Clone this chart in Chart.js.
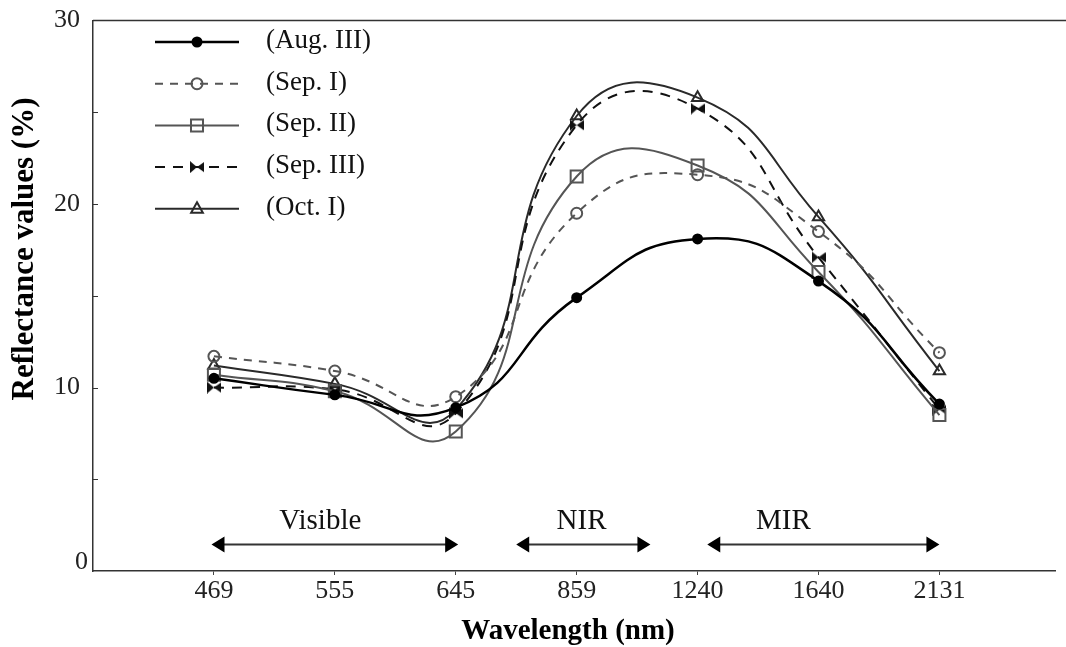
<!DOCTYPE html>
<html>
<head>
<meta charset="utf-8">
<script src="https://cdn.jsdelivr.net/npm/chart.js@4.4.1/dist/chart.umd.min.js"></script>
<style>
  html, body { margin: 0; padding: 0; background: #fff; }
  #wrap { width: 1066px; height: 647px; }
</style>
</head>
<body>
<div id="wrap"><canvas id="refl"></canvas></div>
<script>
// wavelengths (nm) and reflectance (%) per sampling date
const wavelengths = ["469", "555", "645", "859", "1240", "1640", "2131"];
const augIII = [10.5, 9.6, 8.9, 14.9, 18.1, 15.8, 9.1];
const sepI   = [11.7, 10.9, 9.5, 19.5, 21.6, 18.5, 11.9];
const sepII  = [10.7, 9.8, 7.6, 21.5, 22.1, 16.3, 8.5];
const sepIII = [10.0, 9.9, 8.6, 24.3, 25.2, 17.1, 8.8];
const octI   = [11.2, 10.2, 8.8, 24.8, 25.8, 19.3, 10.9];
const yTicks = [0, 10, 20, 30];

// spectral regions, in category-index units
const bandNames = ["Visible", "NIR", "MIR"];
const bandFrom = [-0.02, 2.5, 4.08];
const bandTo = [2.02, 3.61, 6.0];
const bandText = [0.88, 3.04, 4.71];

const SERIF = "'Liberation Serif', 'Times New Roman', serif";

function bowtie(color) {
  const c = document.createElement("canvas");
  c.width = 14; c.height = 12;
  const g = c.getContext("2d");
  g.fillStyle = color;
  g.beginPath();
  g.moveTo(0, 0); g.lineTo(7, 6); g.lineTo(0, 12); g.closePath();
  g.moveTo(14, 1); g.lineTo(7, 6); g.lineTo(14, 11); g.closePath();
  g.fill();
  return c;
}
const tie = bowtie("#111");

function pts(arr) {
  return arr.map((v, i) => ({ x: i, y: v }));
}

const series = [
  { label: "(Aug. III)", data: augIII, color: "#000", width: 2.5, dash: [], style: "circle", radius: 4.5, fill: "#000" },
  { label: "(Sep. I)", data: sepI, color: "#555", width: 2, dash: [8, 7], style: "circle", radius: 5.5, fill: "rgba(0,0,0,0)" },
  { label: "(Sep. II)", data: sepII, color: "#555", width: 2, dash: [], style: "rect", radius: 8.5, fill: "rgba(0,0,0,0)" },
  { label: "(Sep. III)", data: sepIII, color: "#111", width: 2, dash: [10, 8], style: tie, radius: 6, fill: "#111" },
  { label: "(Oct. I)", data: octI, color: "#2a2a2a", width: 2, dash: [], style: "triangle", radius: 6.5, fill: "rgba(0,0,0,0)" }
];

function drawMarker(ctx, s, x, y) {
  ctx.save();
  ctx.setLineDash([]);
  ctx.strokeStyle = s.color;
  ctx.fillStyle = s.fill;
  ctx.lineWidth = 2;
  ctx.beginPath();
  if (s.style === "circle") {
    ctx.arc(x, y, s.radius, 0, Math.PI * 2);
  } else if (s.style === "rect") {
    const h = s.radius * Math.SQRT1_2;
    ctx.rect(x - h, y - h, 2 * h, 2 * h);
  } else if (s.style === "triangle") {
    ctx.moveTo(x, y - s.radius);
    ctx.lineTo(x + s.radius * 0.9, y + s.radius * 0.6);
    ctx.lineTo(x - s.radius * 0.9, y + s.radius * 0.6);
    ctx.closePath();
  } else {
    ctx.drawImage(s.style, x - 7, y - 6);
    ctx.restore();
    return;
  }
  ctx.fill();
  ctx.stroke();
  ctx.restore();
}

const decor = {
  id: "decor",
  afterDraw(chart) {
    const ctx = chart.ctx;
    const a = chart.chartArea;
    const xs = chart.scales.x, ys = chart.scales.y;
    ctx.save();

    // top frame line
    ctx.strokeStyle = "#333";
    ctx.lineWidth = 1.5;
    ctx.beginPath();
    ctx.moveTo(a.left, a.top);
    ctx.lineTo(chart.width, a.top);
    ctx.stroke();

    // inward minor ticks on y
    ctx.lineWidth = 1;
    for (let v = 5; v < 30; v += 5) {
      const py = Math.round(ys.getPixelForValue(v)) + 0.5;
      ctx.beginPath();
      ctx.moveTo(a.left, py);
      ctx.lineTo(a.left + 5, py);
      ctx.stroke();
    }

    // zero label sits above the axis line
    ctx.fillStyle = "#222";
    ctx.font = "26px " + SERIF;
    ctx.textAlign = "right";
    ctx.textBaseline = "middle";
    ctx.fillText("0", a.left - 5, ys.getPixelForValue(0) - 9);

    // axis titles
    ctx.textAlign = "center";
    ctx.fillStyle = "#000";
    ctx.font = "bold 29px " + SERIF;
    ctx.fillText("Wavelength (nm)", 568, 632);
    ctx.save();
    ctx.translate(25, 249);
    ctx.rotate(-Math.PI / 2);
    ctx.font = "bold 31px " + SERIF;
    ctx.fillText("Reflectance values (%)", 0, 0);
    ctx.restore();

    // spectral region arrows
    const ay = ys.getPixelForValue(1.44);
    const ty = ys.getPixelForValue(2.7);
    ctx.font = "29px " + SERIF;
    bandNames.forEach((name, i) => {
      const x1 = xs.getPixelForValue(bandFrom[i]);
      const x2 = xs.getPixelForValue(bandTo[i]);
      ctx.strokeStyle = "#333";
      ctx.lineWidth = 2;
      ctx.beginPath();
      ctx.moveTo(x1 + 10, ay);
      ctx.lineTo(x2 - 10, ay);
      ctx.stroke();
      ctx.fillStyle = "#000";
      ctx.beginPath();
      ctx.moveTo(x1, ay); ctx.lineTo(x1 + 13, ay - 8); ctx.lineTo(x1 + 13, ay + 8); ctx.closePath();
      ctx.moveTo(x2, ay); ctx.lineTo(x2 - 13, ay - 8); ctx.lineTo(x2 - 13, ay + 8); ctx.closePath();
      ctx.fill();
      ctx.fillStyle = "#111";
      ctx.fillText(name, xs.getPixelForValue(bandText[i]), ty);
    });

    // legend
    ctx.textAlign = "left";
    ctx.font = "27px " + SERIF;
    series.forEach((s, i) => {
      const y = 42 + i * 41.7;
      ctx.strokeStyle = s.color;
      ctx.lineWidth = s.width;
      ctx.setLineDash(s.dash);
      ctx.beginPath();
      ctx.moveTo(155, y);
      ctx.lineTo(239, y);
      ctx.stroke();
      ctx.setLineDash([]);
      drawMarker(ctx, s, 197, y);
      ctx.fillStyle = "#111";
      ctx.fillText(s.label, 266, y - 1);
    });
    ctx.restore();
  }
};

new Chart(document.getElementById("refl"), {
  type: "line",
  data: {
    datasets: series.map(s => ({
      label: s.label,
      data: pts(s.data),
      borderColor: s.color,
      borderWidth: s.width,
      borderDash: s.dash,
      tension: 0.5,
      pointStyle: s.style,
      pointRadius: s.radius,
      pointBorderWidth: 2,
      pointBorderColor: s.color,
      pointBackgroundColor: s.fill,
      fill: false
    }))
  },
  options: {
    responsive: true,
    maintainAspectRatio: false,
    animation: false,
    layout: { padding: { top: 15, right: 2, left: 0, bottom: 0 } },
    plugins: { legend: { display: false }, tooltip: { enabled: false } },
    scales: {
      x: {
        type: "linear",
        min: -1,
        max: 6.96,
        afterBuildTicks: s => { s.ticks = wavelengths.map((_, i) => ({ value: i })); },
        afterFit: s => { s.height = 76; },
        grid: { drawOnChartArea: false, drawTicks: true, tickLength: 4, color: "#444" },
        border: { display: true, color: "#333", width: 1.5 },
        ticks: {
          callback: v => wavelengths[v],
          font: { family: SERIF, size: 26 },
          color: "#222",
          padding: 1,
          maxRotation: 0,
          autoSkip: false
        }
      },
      y: {
        min: 0,
        max: 30,
        afterBuildTicks: s => { s.ticks = yTicks.map(v => ({ value: v })); },
        afterFit: s => { s.width = 93; },
        grid: { display: false },
        border: { display: true, color: "#333", width: 1.5 },
        ticks: {
          callback: v => (v === 0 ? "" : v),
          font: { family: SERIF, size: 26 },
          color: "#222",
          padding: 5
        }
      }
    }
  },
  plugins: [decor]
});
</script>
</body>
</html>
